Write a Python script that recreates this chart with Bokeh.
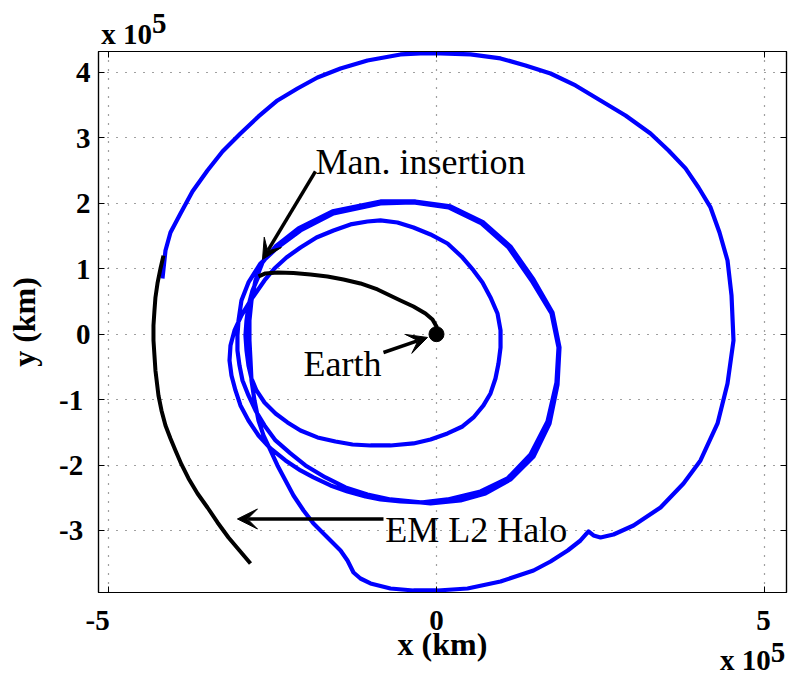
import json
from bokeh.plotting import figure
from bokeh.models import (Range1d, FixedTicker, CustomJSTickFormatter, LinearAxis,
                          Label, Arrow, VeeHead)
from bokeh.embed import file_html
from bokeh.resources import INLINE

SCALE = 1e5  # km per unit

# Blue transfer trajectory (units of 1e5 km)
traj_x = [-2.713, -2.805, -2.866, -2.896, -2.912, -2.896, -2.866, -2.820, -2.744, -2.622,
          -2.454, -2.271, -2.073, -1.814, -1.540, -1.280, -1.006, -0.701, -0.351, -0.091,
          0.168, 0.396, 0.564, 0.716, 0.823, 0.899, 0.945, 0.976, 0.976, 0.930,
          0.823, 0.701, 0.564, 0.381, 0.168, -0.091, -0.351, -0.595, -0.854, -1.052,
          -1.311, -1.570, -1.829, -2.073, -2.287, -2.470, -2.622, -2.835,
          -2.973, -3.079, -3.140, -3.155, -3.125, -3.064, -2.988, -2.866, -2.713, -2.530,
          -2.302, -2.073, -1.875, -1.616, -1.357, -1.082, -0.854, -0.549, -0.244, 0.168,
          0.671, 1.082, 1.433, 1.692, 1.829, 1.860, 1.753, 1.448, 1.098, 0.686,
          0.183, -0.351, -0.854, -1.570, -2.073, -2.424, -2.683, -2.866, -2.973,
          -3.018, -3.034, -3.034, -3.003, -2.957, -2.866, -2.759, -2.622, -2.454, -2.226,
          -1.997, -1.692, -1.387, -1.052, -0.701, -0.091, 0.366, 0.747, 1.128, 1.479,
          1.723, 1.845, 1.875, 1.768, 1.479, 1.128, 0.716, 0.213, -0.320, -0.854,
          -1.585, -2.104, -2.454, -2.652,
          -2.759, -2.820, -2.851, -2.851, -2.835, -2.820, -2.774, -2.713, -2.637, -2.530,
          -2.424, -2.302, -2.180, -2.027, -1.875, -1.692, -1.570, -1.463, -1.357, -1.265,
          -1.159, -1.006, -0.701, -0.351, 0.015, 0.473, 0.976, 1.479, 1.738, 2.000,
          2.195, 2.317, 2.393, 2.500, 2.698, 3.003, 3.415, 3.765, 4.024, 4.284,
          4.436, 4.527, 4.497, 4.436, 4.314, 4.177, 3.994, 3.796, 3.537, 3.262,
          2.881, 2.500, 2.119, 1.738, 1.357, 0.976, 0.518, 0.061, -0.244, -0.549,
          -1.052, -1.463, -1.814, -2.119, -2.424, -2.713, -2.988, -3.262, -3.491, -3.720,
          -3.902, -4.055, -4.131, -4.177]
traj_y = [0.882, 0.668, 0.439, 0.209, -0.020, -0.249, -0.478, -0.677, -0.860, -1.044,
          -1.212, -1.349, -1.472, -1.578, -1.640, -1.686, -1.701, -1.701, -1.670, -1.609,
          -1.517, -1.411, -1.273, -1.089, -0.906, -0.677, -0.448, -0.203, 0.057, 0.316,
          0.561, 0.790, 0.974, 1.188, 1.386, 1.524, 1.631, 1.707, 1.738, 1.722,
          1.677, 1.585, 1.478, 1.325, 1.172, 1.004, 0.821, 0.515,
          0.286, 0.057, -0.173, -0.402, -0.631, -0.860, -1.089, -1.319, -1.548, -1.747,
          -1.930, -2.083, -2.190, -2.312, -2.404, -2.481, -2.526, -2.557, -2.572, -2.526,
          -2.404, -2.205, -1.838, -1.334, -0.738, -0.203, 0.316, 0.821, 1.325, 1.692,
          1.937, 2.013, 1.998, 1.845, 1.585, 1.325, 1.081, 0.790, 0.515,
          0.209, -0.020, -0.249, -0.478, -0.708, -0.937, -1.166, -1.395, -1.624, -1.823,
          -2.006, -2.190, -2.343, -2.450, -2.526, -2.587, -2.542, -2.435, -2.221, -1.869,
          -1.365, -0.769, -0.203, 0.332, 0.836, 1.340, 1.707, 1.952, 2.028, 2.028,
          1.876, 1.615, 1.340, 1.096,
          0.821, 0.515, 0.209, -0.096, -0.402, -0.708, -1.013, -1.319, -1.548, -1.777,
          -2.006, -2.236, -2.465, -2.695, -2.893, -3.076, -3.199, -3.306, -3.459, -3.642,
          -3.734, -3.810, -3.887, -3.917, -3.917, -3.887, -3.780, -3.612, -3.474, -3.306,
          -3.153, -3.015, -3.076, -3.107, -3.061, -2.924, -2.649, -2.282, -1.930, -1.365,
          -0.753, -0.096, 0.591, 1.126, 1.554, 1.937, 2.242, 2.533, 2.807, 3.067,
          3.343, 3.572, 3.801, 3.984, 4.107, 4.214, 4.275, 4.291, 4.291, 4.275,
          4.183, 4.060, 3.923, 3.755, 3.572, 3.327, 3.067, 2.792, 2.502, 2.181,
          1.845, 1.554, 1.279, 0.851]

# Black Earth-departure arc
earth_x = [0.0, 0.0, -0.061, -0.168, -0.351, -0.549, -0.899, -1.159, -1.418, -1.662,
           -1.921, -2.180, -2.424, -2.607, -2.713]
earth_y = [0.0, 0.118, 0.225, 0.317, 0.423, 0.515, 0.683, 0.775, 0.836, 0.882,
           0.912, 0.935, 0.943, 0.928, 0.882]

# Black EM L2 halo arc
halo_x = [-4.162, -4.207, -4.253, -4.284, -4.299, -4.314, -4.314, -4.299, -4.284, -4.238,
          -4.192, -4.131, -4.055, -3.979, -3.887, -3.780, -3.643, -3.491, -3.338, -3.171,
          -3.003, -2.835]
halo_y = [1.200, 1.004, 0.775, 0.561, 0.362, 0.133, -0.096, -0.326, -0.555, -0.937,
          -1.166, -1.395, -1.594, -1.777, -1.991, -2.205, -2.435, -2.649, -2.878, -3.107,
          -3.306, -3.504]

x_ticks = [-5, 0, 5]
y_ticks = [-3, -2, -1, 0, 1, 2, 3, 4]
exp_base, exp_power = "x 10", "5"

FONT = "Liberation Serif"
NB = "\u00a0"

p = figure(width=792, height=677, output_backend="svg", toolbar_location=None,
           x_range=Range1d(-5.152 * SCALE, 5.335 * SCALE),
           y_range=Range1d(-3.948 * SCALE, 4.32 * SCALE),
           min_border_left=98, min_border_top=51, min_border_right=6, min_border_bottom=85)

p.outline_line_color = "black"
p.outline_line_width = 1.2
p.background_fill_color = "white"
p.border_fill_color = "white"

# bottom axis: the last tick label also carries the exponent (raised "5" on its own line)
bottom5 = "\n".join([NB * 7 + "5" + NB * 3, "", "", "",
                     NB * 9 + exp_power + NB * 1, NB * 2 + exp_base + NB * 3])
fmt_x = CustomJSTickFormatter(code=(
    "if (tick > 4e5) { return %s; }"
    "const v = Math.round(tick/1e5);"
    "return v < 0 ? String(v) + %s : String(v);") % (json.dumps(bottom5), json.dumps(NB * 3)))
fmt_y = CustomJSTickFormatter(code=(
    "const v = Math.round(tick/1e5);"
    "return v < 0 ? String(v) + %s : String(v);") % json.dumps(NB))

for ax, ticks, fmt in ((p.xaxis[0], x_ticks, fmt_x), (p.yaxis[0], y_ticks, fmt_y)):
    ax.ticker = FixedTicker(ticks=[t * SCALE for t in ticks])
    ax.formatter = fmt
    ax.major_tick_in = 6
    ax.major_tick_out = 0
    ax.minor_tick_in = 0
    ax.minor_tick_out = 0
    ax.axis_line_color = "black"
    ax.axis_line_width = 1.2
    ax.major_tick_line_color = "black"
    ax.major_label_text_font = FONT
    ax.major_label_text_font_size = "29px"
    ax.major_label_text_font_style = "bold"
    ax.major_label_text_color = "black"
    ax.axis_label_text_font = FONT
    ax.axis_label_text_font_size = "32px"
    ax.axis_label_text_font_style = "bold"
    ax.axis_label_text_color = "black"

p.xaxis[0].axis_label = "x (km)"
p.yaxis[0].axis_label = "y (km)"
p.xaxis[0].major_label_standoff = 11
p.xaxis[0].major_label_text_line_height = 0.255
p.xaxis[0].axis_label_standoff = -53
p.yaxis[0].major_label_standoff = 8
p.yaxis[0].axis_label_standoff = 14

# mirrored axes (top, right) with inward ticks; the top one carries the exponent
top_label = "\n".join([NB * 14 + exp_power, NB * 7 + exp_base + NB * 2])
fmt_top = CustomJSTickFormatter(code="return tick < -4e5 ? %s : '';" % json.dumps(top_label))
fmt_none = CustomJSTickFormatter(code="return '';")
for loc, ticks, fmt, lh in (("above", x_ticks, fmt_top, 0.334), ("right", y_ticks, fmt_none, 1.2)):
    ax = LinearAxis(ticker=FixedTicker(ticks=[t * SCALE for t in ticks]), formatter=fmt,
                    major_label_text_font=FONT, major_label_text_font_size="29px",
                    major_label_text_font_style="bold", major_label_text_color="black",
                    major_label_text_line_height=lh,
                    major_tick_in=6, major_tick_out=0, minor_tick_in=0, minor_tick_out=0,
                    axis_line_color="black", axis_line_width=1.2, major_label_standoff=2)
    p.add_layout(ax, loc)

p.xgrid.ticker = FixedTicker(ticks=[t * SCALE for t in x_ticks])
p.ygrid.ticker = FixedTicker(ticks=[t * SCALE for t in y_ticks])
for g in (p.xgrid[0], p.ygrid[0]):
    g.grid_line_color = "#404040"
    g.grid_line_dash = "1 8"
    g.grid_line_width = 1.2

sx = lambda a: [v * SCALE for v in a]

p.line(sx(traj_x), sx(traj_y), line_color="#0000ff", line_width=4.2, line_join="round")
p.line(sx(earth_x), sx(earth_y), line_color="black", line_width=4, line_join="round")
p.line(sx(halo_x), sx(halo_y), line_color="black", line_width=4, line_join="round")
p.scatter([0.0], [0.0], size=15, color="black")

# annotations: (tail x, tail y, tip x, tip y)
ann = [
    (-1.845, 2.488, -2.652, 1.142),
    (-0.808, -0.280, -0.137, -0.050),
    (-0.808, -2.824, -3.034, -2.824),
]
for tx, ty, hx, hy in ann:
    p.add_layout(Arrow(end=VeeHead(size=20, fill_color="black", line_color="black", line_width=1),
                       x_start=tx * SCALE, y_start=ty * SCALE, x_end=hx * SCALE, y_end=hy * SCALE,
                       line_width=3.5, line_color="black"))

labels = [
    ("Man. insertion", -1.845, 2.624, "left"),
    ("Earth", -0.84, -0.462, "right"),
    ("EM L2 Halo", -0.78, -3.0, "left"),
]
for txt, lx, ly, al in labels:
    p.add_layout(Label(x=lx * SCALE, y=ly * SCALE, text=txt, text_font=FONT,
                       text_font_size="36px", text_align=al, text_baseline="alphabetic",
                       text_color="black"))

open("out.html", "w").write(file_html(p, INLINE))
